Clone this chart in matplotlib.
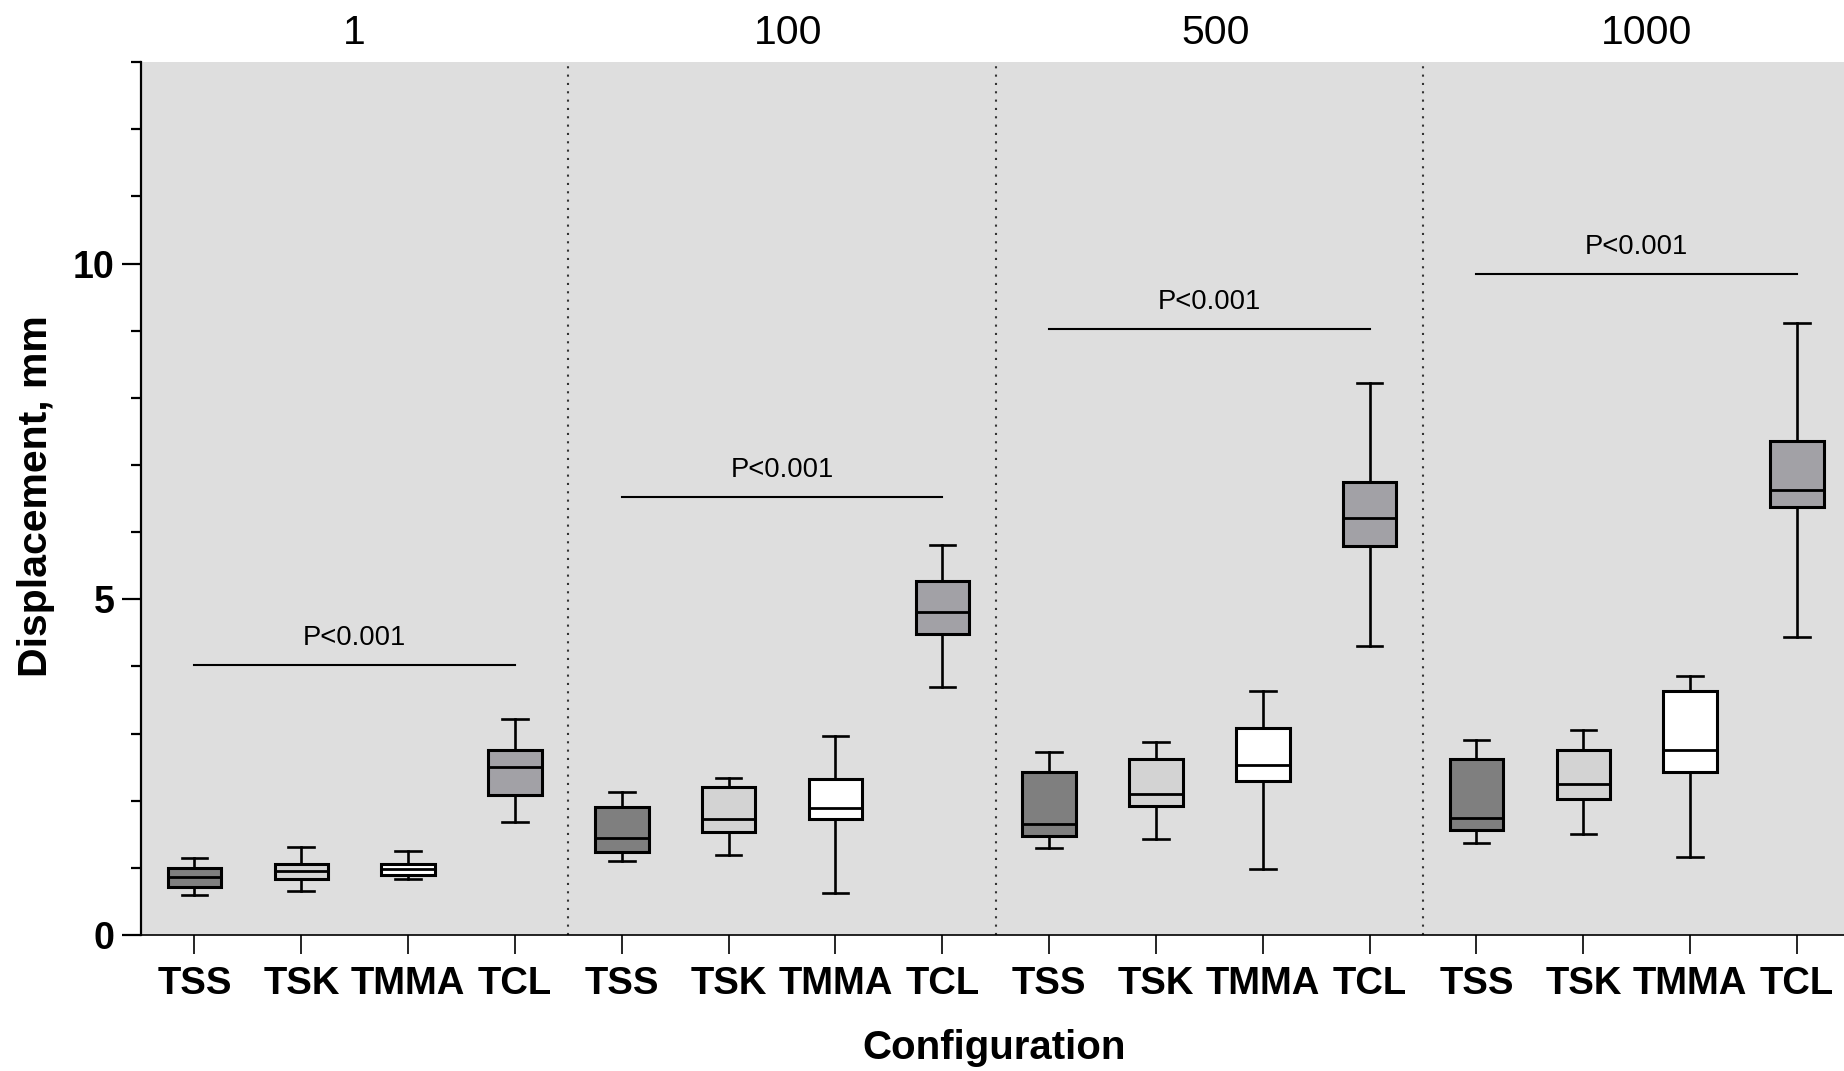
import matplotlib.pyplot as plt
from matplotlib.ticker import MultipleLocator, FixedLocator

# loading cycles (panel headers) and configurations
loads = ['1', '100', '500', '1000']
configs = ['TSS', 'TSK', 'TMMA', 'TCL']

# per load: [whisker low, q1, median, q3, whisker high] in mm
tss = [[0.59, 0.72, 0.87, 1.00, 1.14],
       [1.10, 1.23, 1.45, 1.90, 2.13],
       [1.29, 1.48, 1.65, 2.42, 2.72],
       [1.37, 1.57, 1.74, 2.62, 2.91]]
tsk = [[0.65, 0.83, 0.96, 1.06, 1.31],
       [1.19, 1.53, 1.73, 2.20, 2.34],
       [1.43, 1.92, 2.10, 2.62, 2.88],
       [1.51, 2.03, 2.25, 2.76, 3.06]]
tmma = [[0.84, 0.90, 0.98, 1.06, 1.25],
        [0.63, 1.72, 1.89, 2.32, 2.97],
        [0.99, 2.29, 2.53, 3.09, 3.63],
        [1.16, 2.43, 2.75, 3.63, 3.85]]
tcl = [[1.68, 2.09, 2.50, 2.76, 3.21],
       [3.70, 4.48, 4.81, 5.27, 5.81],
       [4.30, 5.80, 6.21, 6.74, 8.22],
       [4.44, 6.38, 6.62, 7.36, 9.12]]

# significance bar heights and labels
p_line_y = [4.02, 6.52, 9.02, 9.84]
p_text = ['P<0.001', 'P<0.001', 'P<0.001', 'P<0.001']

colors = ['#7f7f7f', '#d3d3d3', '#ffffff', '#a2a1a6']
data = [tss, tsk, tmma, tcl]

plt.rcParams['font.family'] = ['Liberation Sans', 'DejaVu Sans']

fig = plt.figure(figsize=(18.44, 10.71), dpi=100)
ax = fig.add_axes([0.0765, 0.127, 0.9235, 0.815])
ax.set_facecolor('#dedede')

# build box stats
stats = []
positions = []
facecols = []
for g in range(len(loads)):
    for c in range(len(configs)):
        lo, q1, med, q3, hi = data[c][g]
        stats.append(dict(whislo=lo, q1=q1, med=med, q3=q3, whishi=hi, fliers=[]))
        positions.append(g * 4 + c)
        facecols.append(colors[c])

bp = ax.bxp(stats, positions=positions, widths=0.5, patch_artist=True,
            showfliers=False, capwidths=0.24,
            boxprops=dict(linewidth=2.2, edgecolor='black'),
            medianprops=dict(color='black', linewidth=2),
            whiskerprops=dict(color='black', linewidth=1.9),
            capprops=dict(color='black', linewidth=1.9))
for patch, fc in zip(bp['boxes'], facecols):
    patch.set_facecolor(fc)

# dotted panel separators
for g in range(1, len(loads)):
    ax.axvline(g * 4 - 0.5, color='#333333', linewidth=1.5,
               linestyle=(0, (1, 3)))

# significance lines and panel headers
for g, load in enumerate(loads):
    x0 = g * 4
    x1 = g * 4 + 3
    ax.plot([x0, x1], [p_line_y[g], p_line_y[g]], color='black', linewidth=1.5)
    ax.text((x0 + x1) / 2, p_line_y[g] + 0.3, p_text[g], ha='center',
            va='baseline', fontsize=19.7)
    ax.text(x0 + 1.5 + 0.03 * (len(load) - 1), 13.27, load, ha='center',
            va='baseline', fontsize=29.5, clip_on=False)

ax.set_xlim(-0.5, 15.44)
ax.set_ylim(0, 13)

ax.set_xticks(positions)
ax.set_xticklabels(configs * len(loads), fontsize=27.5, fontweight='bold')
ax.yaxis.set_major_locator(FixedLocator([0, 5, 10]))
ax.yaxis.set_minor_locator(MultipleLocator(1))
ax.tick_params(axis='x', length=13.5, width=1.2, pad=9)
ax.tick_params(axis='y', which='major', length=14, width=1.6, pad=5,
               labelsize=27)
ax.tick_params(axis='y', which='minor', length=7, width=1.6)
for lab in ax.get_yticklabels():
    lab.set_fontweight('bold')

ax.spines['top'].set_visible(False)
ax.spines['right'].set_visible(False)
ax.spines['left'].set_linewidth(1.6)
ax.spines['bottom'].set_linewidth(1.2)

fig.text(36 / 1844, 0.537, 'Displacement, mm', rotation=90, ha='center',
         va='center', fontsize=29.5, fontweight='bold')
fig.text(0.539, 0.0215, 'Configuration', ha='center', va='center',
         fontsize=29, fontweight='bold')

fig.savefig('out.png', dpi=100)
